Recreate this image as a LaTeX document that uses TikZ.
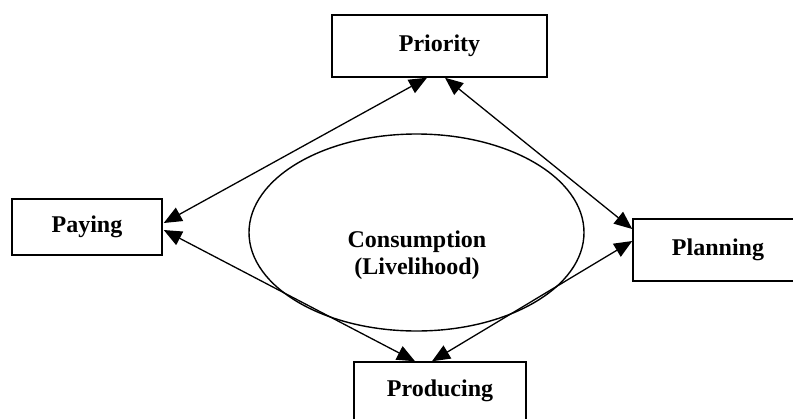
\documentclass[tikz,border=0pt]{standalone}
\usepackage{fontspec}
\setmainfont{Liberation Serif}
\usetikzlibrary{shapes.geometric, arrows.meta, positioning, calc}

\begin{document}
\begin{tikzpicture}[x=0.5pt, y=-0.5pt,
    font=\fontsize{12}{13.5}\selectfont\bfseries,
    box/.style={draw, line width=0.75pt, inner sep=0pt},
    oval/.style={draw, ellipse, line width=0.7pt, minimum width=167.5pt, minimum height=98.5pt},
    link/.style={line width=0.65pt, {Triangle[length=9pt, width=7.5pt]}-{Triangle[length=9pt, width=7.5pt]}}]
    \useasboundingbox (0,0) rectangle (793,418);
    % boxes
    \node[box, minimum width=107.5pt, minimum height=31pt] (prio) at (439.5,46) {Priority};
    \node[box, minimum width=75pt, minimum height=28pt] (pay) at (87,227) {Paying};
    \node[box, minimum width=85pt, minimum height=31pt] (plan) at (718,250) {Planning};
    \node[box, minimum width=86pt, minimum height=29pt] (prod) at (440,391) {Producing};
    % centre
    \node[oval] (cons) at (416.5,232.5) {};
    \node[align=center] (consText) at (417,255) {Consumption\\(Livelihood)};
    % links
    \draw[link] ($(pay.east)+(1,-4)$) -- ($(prio.south)+(-12.5,0)$);
    \draw[link] ($(prio.south)+(5.5,0)$) -- ($(plan.west)+(0,-21)$);
    \draw[link] ($(pay.east)+(1,3)$) -- ($(prod.north)+(-25,0)$);
    \draw[link] ($(plan.west)+(0,-9)$) -- ($(prod.north)+(-8,0)$);
\end{tikzpicture}
\end{document}
